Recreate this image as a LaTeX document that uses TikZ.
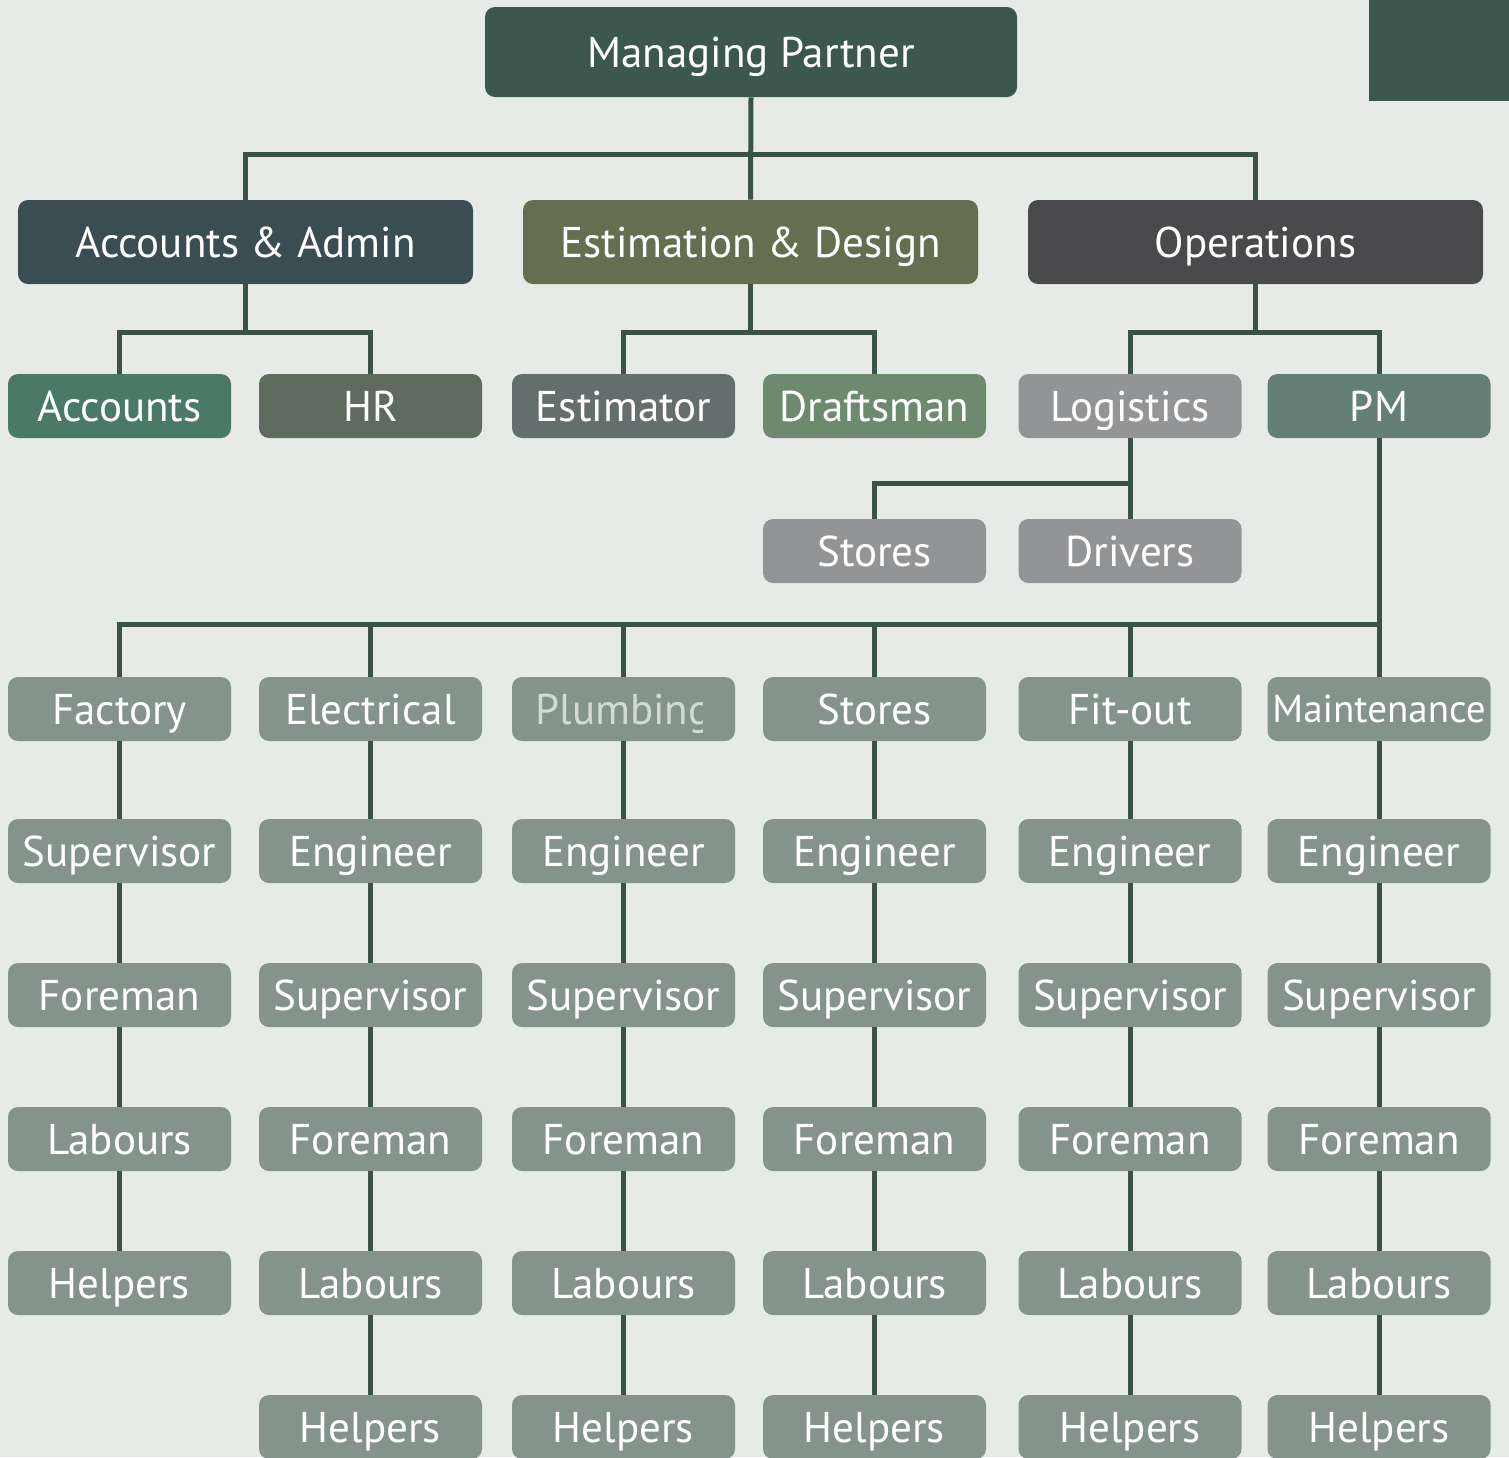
\documentclass[tikz,border=0pt]{standalone}
\usepackage{fontspec}
\setmainfont{PT Sans}
\usepackage{tikz}

\definecolor{paper}{HTML}{E6EBE7}
\definecolor{partnerfill}{HTML}{3C574D}
\definecolor{adminfill}{HTML}{394D52}
\definecolor{designfill}{HTML}{636F4F}
\definecolor{opsfill}{HTML}{4A4A4C}
\definecolor{accountsfill}{HTML}{4B7967}
\definecolor{hrfill}{HTML}{5E6B5E}
\definecolor{estimatorfill}{HTML}{636F6C}
\definecolor{draftfill}{HTML}{6E8A6E}
\definecolor{logisticsfill}{HTML}{939496}
\definecolor{pmfill}{HTML}{647F75}
\definecolor{tradefill}{HTML}{84948D}
\definecolor{linkgreen}{HTML}{3A5248}
\definecolor{plumbtext}{HTML}{D2DAD6}

\begin{document}
\begin{tikzpicture}[x=0.5pt, y=-0.5pt,
           box/.style={rounded corners=5pt, text=white, inner sep=0pt,
              text height=15pt, text depth=0pt,
              font=\fontsize{21.5}{24}\selectfont},
           head/.style={box, fill=partnerfill, minimum width=266pt, minimum height=45pt},
           branch/.style={box, minimum width=227.5pt, minimum height=42pt},
           unit/.style={box, minimum width=111.5pt, minimum height=32pt},
           trade/.style={unit, fill=tradefill},
           connections/.style={draw=linkgreen, line width=2.5pt},
        ]
        \useasboundingbox (0,0) rectangle (1509,1457);
        \fill[paper] (0,0) rectangle (1509,1457);
        \fill[partnerfill] (1369,0) rectangle (1509,101);

        \node at (751,52) (partner) [head] {Managing Partner};
        \node at (245.5,242) (admin) [branch, fill=adminfill] {Accounts \& Admin};
        \node at (750.5,242) (design) [branch, fill=designfill] {Estimation \& Design};
        \node at (1255.5,242) (ops) [branch, fill=opsfill] {Operations};
        \draw[connections] (partner.south) -- (design.north);
        \draw[connections] (admin.north) -- ++(0,-45) -| (ops.north);

        \node at (119.5,406) (accounts) [unit, fill=accountsfill] {Accounts};
        \node at (370.5,406) (hr) [unit, fill=hrfill] {HR};
        \node at (623.5,406) (estimator) [unit, fill=estimatorfill] {Estimator};
        \node at (874.5,406) (draftsman) [unit, fill=draftfill] {Draftsman};
        \node at (1130,406) (logistics) [unit, fill=logisticsfill] {Logistics};
        \node at (1379,406) (pm) [unit, fill=pmfill] {PM};
        \draw[connections] (admin.south) -- ++(0,49);
        \draw[connections] (accounts.north) -- ++(0,-41) -| (hr.north);
        \draw[connections] (design.south) -- ++(0,49);
        \draw[connections] (estimator.north) -- ++(0,-41) -| (draftsman.north);
        \draw[connections] (ops.south) -- ++(0,49);
        \draw[connections] (logistics.north) -- ++(0,-41) -| (pm.north);

        \node at (874.5,551) (stores) [unit, fill=logisticsfill] {Stores};
        \node at (1130,551) (drivers) [unit, fill=logisticsfill] {Drivers};
        \draw[connections] (stores.north) -- ++(0,-35) -| (logistics.south);
        \draw[connections] (logistics.south) -- (drivers.north);

        \node at (119.5,709) (fac1) [trade] {Factory};
        \node at (370.5,709) (ele1) [trade] {Electrical};
        \node at (623.5,709) (plu1) [trade] {};
        \begin{scope}
          \clip (plu1.south west) rectangle ([xshift=-16.5pt]plu1.north east);
          \node at (plu1) (plulabel) [box, text=plumbtext] {Plumbing};
        \end{scope}
        \node at (874.5,709) (sto1) [trade] {Stores};
        \node at (1130,709) (fit1) [trade] {Fit-out};
        \node at (1379,709) (mai1) [trade, font=\fontsize{19.5}{22}\selectfont, text height=13.5pt] {Maintenance};
        \draw[connections] (fac1.north) -- ++(0,-52) -| (pm.south);
        \foreach \col in {ele,plu,sto,fit,mai}
           \draw[connections] (\col1.north) -- ++(0,-52);

        \foreach \col/\x/\roles in {fac/119.5/{Supervisor,Foreman,Labours,Helpers},
              ele/370.5/{Engineer,Supervisor,Foreman,Labours,Helpers},
              plu/623.5/{Engineer,Supervisor,Foreman,Labours,Helpers},
              sto/874.5/{Engineer,Supervisor,Foreman,Labours,Helpers},
              fit/1130/{Engineer,Supervisor,Foreman,Labours,Helpers},
              mai/1379/{Engineer,Supervisor,Foreman,Labours,Helpers}}
           \foreach \role [count=\i from 2] in \roles {
              \pgfmathtruncatemacro\prev{\i-1}
              \node at (\x,{851+144*(\i-2)}) (\col\i) [trade] {\role};
              \draw[connections] (\col\prev.south) -- (\col\i.north);
           }
     \end{tikzpicture}
\end{document}
